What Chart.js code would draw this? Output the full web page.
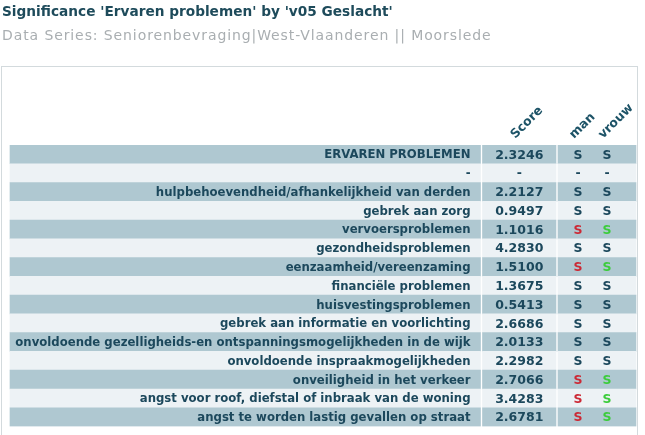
<!DOCTYPE html>
<html>
<head>
<meta charset="utf-8">
<script src="https://cdn.jsdelivr.net/npm/chart.js@4"></script>
<style>
  html, body { margin: 0; padding: 0; background: #ffffff; }
  #wrap { width: 645px; height: 435px; }
</style>
</head>
<body>
<div id="wrap"><canvas id="chart" width="645" height="435"></canvas></div>
<script>
const titleText = "Significance 'Ervaren problemen' by 'v05 Geslacht'";
const subtitleText = "Data Series: Seniorenbevraging|West-Vlaanderen || Moorslede";

const columnHeaders = ["Score", "man", "vrouw"];

const rowLabels = [
  "ERVAREN PROBLEMEN",
  "-",
  "hulpbehoevendheid/afhankelijkheid van derden",
  "gebrek aan zorg",
  "vervoersproblemen",
  "gezondheidsproblemen",
  "eenzaamheid/vereenzaming",
  "financiële problemen",
  "huisvestingsproblemen",
  "gebrek aan informatie en voorlichting",
  "onvoldoende gezelligheids-en ontspanningsmogelijkheden in de wijk",
  "onvoldoende inspraakmogelijkheden",
  "onveiligheid in het verkeer",
  "angst voor roof, diefstal of inbraak van de woning",
  "angst te worden lastig gevallen op straat",
];

const scores = [
  2.3246, null, 2.2127, 0.9497, 1.1016, 4.283, 1.51, 1.3675,
  0.5413, 2.6686, 2.0133, 2.2982, 2.7066, 3.4283, 2.6781,
];

// significance: 0 = plain S, -1 = red S, 1 = green S, null = "-"
const manSig = [0, null, 0, 0, -1, 0, -1, 0, 0, 0, 0, 0, -1, -1, -1];
const vrouwSig = [0, null, 0, 0, 1, 0, 1, 0, 0, 0, 0, 0, 1, 1, 1];

// layout (pixels from the left edge of the chart area)
const colLabel = [8, 478.5];
const colScore = [480.5, 554];
const colFlags = [556, 634];

const DARK = "#afc8d1";
const LIGHT = "#edf2f5";
const TEXT = "#1c485c";
const RED = "#cc2a36";
const GREEN = "#3ccc3c";

const stripe = (ctx) => (ctx.dataIndex % 2 === 0 ? DARK : LIGHT);
const span = (range) => rowLabels.map(() => range);

const tableText = {
  id: "tableText",
  beforeDraw(chart) {
    const ctx = chart.ctx;
    ctx.save();
    ctx.strokeStyle = "#d3dadd";
    ctx.lineWidth = 1;
    ctx.strokeRect(1.5, 66.5, 636, 420);

    ctx.textAlign = "left";
    ctx.textBaseline = "middle";
    ctx.fillStyle = "#1e4b5b";
    ctx.font = "bold 13.7px 'DejaVu Sans'";
    ctx.fillText(titleText, 2, 12);

    ctx.fillStyle = "#a9aeb1";
    ctx.font = "14px 'DejaVu Sans'";
    ctx.letterSpacing = "0.9px";
    ctx.fillText(subtitleText, 2, 36);
    ctx.restore();
  },
  afterDatasetsDraw(chart) {
    const ctx = chart.ctx;
    const x = chart.scales.x;
    const y = chart.scales.y;
    const labelRight = x.getPixelForValue(colLabel[1]) - 10;
    const scoreMid = x.getPixelForValue((colScore[0] + colScore[1]) / 2);
    const manMid = x.getPixelForValue(colFlags[0]) + 20;
    const vrouwMid = x.getPixelForValue(colFlags[0]) + 49;

    ctx.save();
    ctx.textBaseline = "middle";
    rowLabels.forEach((label, i) => {
      const yc = y.getPixelForValue(i) + 1;
      ctx.fillStyle = TEXT;
      ctx.font = "bold 11.7px 'DejaVu Sans'";
      ctx.textAlign = "right";
      ctx.fillText(label, labelRight, yc);

      ctx.textAlign = "center";
      ctx.font = "bold 12.5px 'DejaVu Sans'";
      ctx.fillText(scores[i] === null ? "-" : scores[i].toFixed(4), scoreMid, yc);

      [[manSig[i], manMid], [vrouwSig[i], vrouwMid]].forEach(([sig, cx]) => {
        ctx.fillStyle = sig === -1 ? RED : sig === 1 ? GREEN : TEXT;
        ctx.fillText(sig === null ? "-" : "S", cx, yc);
      });
    });

    // rotated column headers
    const top = chart.chartArea.top;
    ctx.fillStyle = "#1d5367";
    ctx.font = "bold 12.5px 'DejaVu Sans'";
    ctx.textAlign = "left";
    ctx.textBaseline = "alphabetic";
    [scoreMid, manMid, vrouwMid].forEach((cx, i) => {
      ctx.save();
      ctx.translate(cx - 4, top - 6);
      ctx.rotate(-Math.PI / 4);
      ctx.fillText(columnHeaders[i], 0, 0);
      ctx.restore();
    });
    ctx.restore();
  },
};

new Chart(document.getElementById("chart"), {
  type: "bar",
  data: {
    labels: rowLabels,
    datasets: [
      { data: span(colLabel), backgroundColor: stripe },
      { data: span(colScore), backgroundColor: stripe },
      { data: span(colFlags), backgroundColor: stripe },
    ],
  },
  options: {
    indexAxis: "y",
    responsive: false,
    animation: false,
    layout: {
      padding: { left: 2, right: 8, top: 145, bottom: 8.5 },
    },
    datasets: {
      bar: {
        grouped: false,
        barPercentage: 1,
        categoryPercentage: 1,
        borderWidth: 0,
        borderSkipped: false,
      },
    },
    scales: {
      x: { type: "linear", min: 0, max: 635, display: false },
      y: { type: "category", display: false },
    },
    plugins: {
      legend: { display: false },
      tooltip: { enabled: false },
    },
  },
  plugins: [tableText],
});
</script>
</body>
</html>
